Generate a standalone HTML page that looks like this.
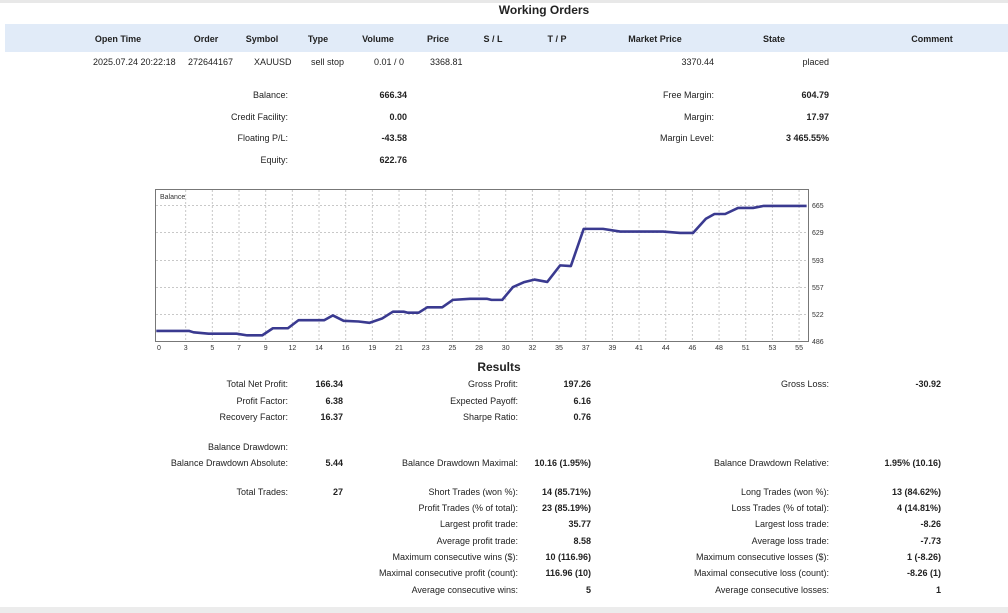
<!DOCTYPE html>
<html><head><meta charset="utf-8"><style>
body{margin:0;width:1008px;height:613px;background:#fff;position:relative;overflow:hidden;font-family:"Liberation Sans",sans-serif;font-size:9px;color:#222}
.t{position:absolute;line-height:12px;white-space:nowrap}
.b{font-weight:bold}
.c{transform:translateX(-50%)}
</style></head><body>
<div style="position:absolute;left:0;top:0;width:1008px;height:3px;background:#e8e8e8"></div>
<div style="position:absolute;left:5px;top:24px;width:1003px;height:28px;background:#e1ebf8"></div>
<div style="position:absolute;left:0;top:607px;width:1008px;height:6px;background:#ececec"></div>
<div class="t b c" style="left:544px;top:4px;font-size:12px">Working Orders</div>
<div class="t b c" style="left:118px;top:33px">Open Time</div>
<div class="t b c" style="left:206px;top:33px">Order</div>
<div class="t b c" style="left:262px;top:33px">Symbol</div>
<div class="t b c" style="left:318px;top:33px">Type</div>
<div class="t b c" style="left:378px;top:33px">Volume</div>
<div class="t b c" style="left:438px;top:33px">Price</div>
<div class="t b c" style="left:493px;top:33px">S / L</div>
<div class="t b c" style="left:557px;top:33px">T / P</div>
<div class="t b c" style="left:655px;top:33px">Market Price</div>
<div class="t b c" style="left:774px;top:33px">State</div>
<div class="t b c" style="left:932px;top:33px">Comment</div>
<div class="t" style="left:93px;top:56px">2025.07.24 20:22:18</div>
<div class="t" style="left:188px;top:56px">272644167</div>
<div class="t" style="left:254px;top:56px">XAUUSD</div>
<div class="t" style="left:311px;top:56px">sell stop</div>
<div class="t" style="right:604px;top:56px">0.01 / 0</div>
<div class="t" style="left:430px;top:56px">3368.81</div>
<div class="t" style="right:294px;top:56px">3370.44</div>
<div class="t" style="right:179px;top:56px">placed</div>

<div class="t" style="right:720px;top:89px">Balance:</div><div class="t b" style="right:601px;top:89px">666.34</div>
<div class="t" style="right:720px;top:111px">Credit Facility:</div><div class="t b" style="right:601px;top:111px">0.00</div>
<div class="t" style="right:720px;top:132px">Floating P/L:</div><div class="t b" style="right:601px;top:132px">-43.58</div>
<div class="t" style="right:720px;top:154px">Equity:</div><div class="t b" style="right:601px;top:154px">622.76</div>
<div class="t" style="right:294px;top:89px">Free Margin:</div><div class="t b" style="right:179px;top:89px">604.79</div>
<div class="t" style="right:294px;top:111px">Margin:</div><div class="t b" style="right:179px;top:111px">17.97</div>
<div class="t" style="right:294px;top:132px">Margin Level:</div><div class="t b" style="right:179px;top:132px">3 465.55%</div>

<svg style="position:absolute;left:0;top:0" width="1008" height="613">
<rect x="155.5" y="189.5" width="653" height="152" fill="#fff" stroke="#777"/>
<g stroke="#c8c8c8" stroke-dasharray="2,2" stroke-width="1">
<line x1="156" x2="808" y1="205.5" y2="205.5"/><line x1="156" x2="808" y1="232.5" y2="232.5"/>
<line x1="156" x2="808" y1="260.5" y2="260.5"/><line x1="156" x2="808" y1="287.5" y2="287.5"/>
<line x1="156" x2="808" y1="314.5" y2="314.5"/>
<g id="vg"></g>
</g>
<g font-size="7" fill="#333" font-family="Liberation Sans,sans-serif">
<text x="160" y="199">Balance</text>
<text x="812" y="208">665</text><text x="812" y="235">629</text><text x="812" y="263">593</text>
<text x="812" y="290">557</text><text x="812" y="317">522</text><text x="812" y="344">486</text>
</g>
<g id="xl" font-size="7" fill="#333" text-anchor="middle" font-family="Liberation Sans,sans-serif"></g>
<polyline fill="none" stroke="#3a3a90" stroke-width="2.6" stroke-linejoin="round" vector-effect="non-scaling-stroke" transform="translate(155,189) scale(0.4287,0.338) translate(-15,-12)" points="18,432 95,432 105,436 140,440 205,440 230,445 265,445 290,424 325,424 350,400 410,400 430,386 455,402 490,404 515,408 545,395 570,375 595,375 605,378 630,378 650,362 685,362 710,340 750,337 790,337 800,340 825,340 850,302 875,288 900,280 930,287 960,238 985,240 1015,130 1060,130 1100,138 1150,138 1200,138 1240,142 1270,142 1300,100 1320,86 1345,86 1375,68 1410,68 1435,62 1535,62"/>
</svg>
<script>
var L=[0,3,5,7,9,12,14,16,19,21,23,25,28,30,32,35,37,39,41,44,46,48,51,53,55],s="",g="";
L.forEach(function(v,i){var x=159+26.67*i;s+='<text x="'+x+'" y="350">'+v+'</text>';if(i>0)g+='<line x1="'+x+'" x2="'+x+'" y1="190" y2="341"/>';});
document.getElementById("xl").innerHTML=s;document.getElementById("vg").innerHTML=g;
</script>

<div class="t b c" style="left:499px;top:361px;font-size:12px">Results</div>
<div class="t" style="right:720px;top:378px">Total Net Profit:</div><div class="t b" style="right:665px;top:378px">166.34</div>
<div class="t" style="right:720px;top:395px">Profit Factor:</div><div class="t b" style="right:665px;top:395px">6.38</div>
<div class="t" style="right:720px;top:411px">Recovery Factor:</div><div class="t b" style="right:665px;top:411px">16.37</div>
<div class="t" style="right:720px;top:441px">Balance Drawdown:</div>
<div class="t" style="right:720px;top:457px">Balance Drawdown Absolute:</div><div class="t b" style="right:665px;top:457px">5.44</div>
<div class="t" style="right:720px;top:486px">Total Trades:</div><div class="t b" style="right:665px;top:486px">27</div>

<div class="t" style="right:490px;top:378px">Gross Profit:</div><div class="t b" style="right:417px;top:378px">197.26</div>
<div class="t" style="right:490px;top:395px">Expected Payoff:</div><div class="t b" style="right:417px;top:395px">6.16</div>
<div class="t" style="right:490px;top:411px">Sharpe Ratio:</div><div class="t b" style="right:417px;top:411px">0.76</div>
<div class="t" style="right:490px;top:457px">Balance Drawdown Maximal:</div><div class="t b" style="right:417px;top:457px">10.16 (1.95%)</div>
<div class="t" style="right:490px;top:486px">Short Trades (won %):</div><div class="t b" style="right:417px;top:486px">14 (85.71%)</div>
<div class="t" style="right:490px;top:502px">Profit Trades (% of total):</div><div class="t b" style="right:417px;top:502px">23 (85.19%)</div>
<div class="t" style="right:490px;top:518px">Largest profit trade:</div><div class="t b" style="right:417px;top:518px">35.77</div>
<div class="t" style="right:490px;top:535px">Average profit trade:</div><div class="t b" style="right:417px;top:535px">8.58</div>
<div class="t" style="right:490px;top:551px">Maximum consecutive wins ($):</div><div class="t b" style="right:417px;top:551px">10 (116.96)</div>
<div class="t" style="right:490px;top:567px">Maximal consecutive profit (count):</div><div class="t b" style="right:417px;top:567px">116.96 (10)</div>
<div class="t" style="right:490px;top:584px">Average consecutive wins:</div><div class="t b" style="right:417px;top:584px">5</div>

<div class="t" style="right:179px;top:378px">Gross Loss:</div><div class="t b" style="right:67px;top:378px">-30.92</div>
<div class="t" style="right:179px;top:457px">Balance Drawdown Relative:</div><div class="t b" style="right:67px;top:457px">1.95% (10.16)</div>
<div class="t" style="right:179px;top:486px">Long Trades (won %):</div><div class="t b" style="right:67px;top:486px">13 (84.62%)</div>
<div class="t" style="right:179px;top:502px">Loss Trades (% of total):</div><div class="t b" style="right:67px;top:502px">4 (14.81%)</div>
<div class="t" style="right:179px;top:518px">Largest loss trade:</div><div class="t b" style="right:67px;top:518px">-8.26</div>
<div class="t" style="right:179px;top:535px">Average loss trade:</div><div class="t b" style="right:67px;top:535px">-7.73</div>
<div class="t" style="right:179px;top:551px">Maximum consecutive losses ($):</div><div class="t b" style="right:67px;top:551px">1 (-8.26)</div>
<div class="t" style="right:179px;top:567px">Maximal consecutive loss (count):</div><div class="t b" style="right:67px;top:567px">-8.26 (1)</div>
<div class="t" style="right:179px;top:584px">Average consecutive losses:</div><div class="t b" style="right:67px;top:584px">1</div>
</body></html>
